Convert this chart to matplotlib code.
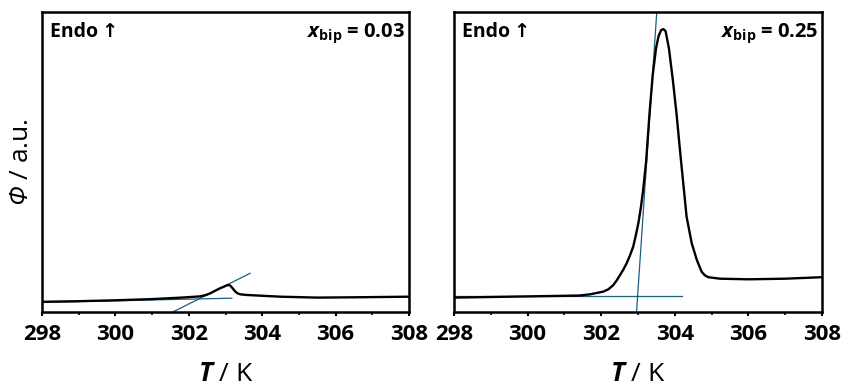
import numpy as np
import matplotlib
matplotlib.use("Agg")
import matplotlib.pyplot as plt
from matplotlib.ticker import MultipleLocator

plt.rcParams['font.family'] = ['Open Sans', 'DejaVu Sans']
plt.rcParams['mathtext.fontset'] = 'custom'
# Greek capitals are taken from the rm font, so make it italic for the Phi
plt.rcParams['mathtext.rm'] = 'Open Sans:italic'
plt.rcParams['mathtext.it'] = 'Open Sans:italic'
plt.rcParams['mathtext.bf'] = 'Open Sans:bold'
plt.rcParams['mathtext.bfit'] = 'Open Sans:italic:bold'

# DSC curves (heat flow, arbitrary units)
t_003 = [298.0, 299.0, 300.0, 301.0, 301.8, 302.3, 302.45, 302.58, 302.72, 302.85,
         302.95, 303.02, 303.08, 303.13, 303.18, 303.26, 303.33, 303.4, 303.55,
         303.7, 304.5, 305.5, 306.5, 308.0]
phi_003 = [3.4, 3.6, 3.9, 4.3, 4.8, 5.2, 5.6, 6.2, 7.1, 7.9,
           8.4, 8.8, 9.0, 8.8, 8.1, 6.9, 6.2, 5.9, 5.7,
           5.6, 5.1, 4.8, 4.9, 5.1]

t_025 = [298.0, 299.0, 300.0, 301.0, 301.42, 301.7, 302.06, 302.2, 302.33, 302.42,
         302.51, 302.6, 302.69, 302.78, 302.87, 302.94, 303.01, 303.08, 303.14,
         303.22, 303.31, 303.4, 303.49, 303.56, 303.63, 303.69, 303.75, 303.84,
         303.95, 304.05, 304.14, 304.23, 304.32, 304.46, 304.6, 304.73, 304.82,
         304.91, 305.23, 306.0, 307.0, 308.0]
phi_025 = [4.8, 5.0, 5.2, 5.4, 5.5, 5.9, 6.8, 7.6, 9.0, 10.5,
           12.3, 14.1, 16.2, 18.8, 21.8, 25.5, 29.6, 35.0, 40.7,
           50.1, 65.7, 79.0, 87.9, 92.0, 94.0, 94.3, 93.6, 87.9,
           77.0, 65.7, 54.0, 42.9, 31.8, 22.9, 17.3, 13.4, 12.2,
           11.6, 11.1, 10.9, 11.1, 11.6]

# onset construction lines: baseline and inflection tangent
base_003_t = [298.0, 303.17]
base_003_y = [3.2, 4.6]
tan_003_t = [301.53, 303.67]
tan_003_y = [-0.2, 12.9]

base_025_t = [298.0, 304.19]
base_025_y = [5.4, 5.4]
tan_025_t = [302.96, 303.51]
tan_025_y = [0.0, 100.0]

labels = ['0.03', '0.25']
tan_color = '#1b5e82'

fig = plt.figure(figsize=(8.41, 3.91), dpi=100)
ax1 = fig.add_axes([42/841, 1-312/391, 367/841, 300/391])
ax2 = fig.add_axes([454/841, 1-312/391, 368/841, 300/391])

panels = [
    (ax1, t_003, phi_003, base_003_t, base_003_y, tan_003_t, tan_003_y, labels[0]),
    (ax2, t_025, phi_025, base_025_t, base_025_y, tan_025_t, tan_025_y, labels[1]),
]

for ax, t, phi, bt, by, tt, ty, lab in panels:
    ax.plot(bt, by, color=tan_color, lw=0.9)
    ax.plot(tt, ty, color=tan_color, lw=0.9)
    ax.plot(t, phi, color='black', lw=1.7, solid_joinstyle='round')
    ax.set_xlim(298, 308)
    ax.set_ylim(0, 100)
    ax.xaxis.set_major_locator(MultipleLocator(2))
    ax.xaxis.set_minor_locator(MultipleLocator(1))
    ax.set_yticks([])
    for s in ax.spines.values():
        s.set_linewidth(1.8)
    ax.tick_params(axis='x', which='major', direction='out', length=3, width=1.5,
                   pad=6, labelsize=16)
    ax.tick_params(axis='x', which='minor', direction='out', length=2, width=1.2)
    for lbl in ax.get_xticklabels():
        lbl.set_fontweight('bold')
    ax.set_xlabel(r'$\mathbfit{T}$ / K', fontsize=19, labelpad=12)
    ax.text(0.022, 0.917, 'Endo\u2009\u2191', transform=ax.transAxes,
            fontsize=14, fontweight='bold', va='baseline', ha='left')
    ax.text(0.989, 0.917, r'$\mathbfit{x}_{\mathbf{bip}}$ = ' + lab,
            transform=ax.transAxes, fontsize=14.5, fontweight='bold',
            va='baseline', ha='right')

ax1.set_ylabel(r'$\Phi$ / a.u.', fontsize=19, labelpad=6)

fig.savefig('out.png', dpi=100)
